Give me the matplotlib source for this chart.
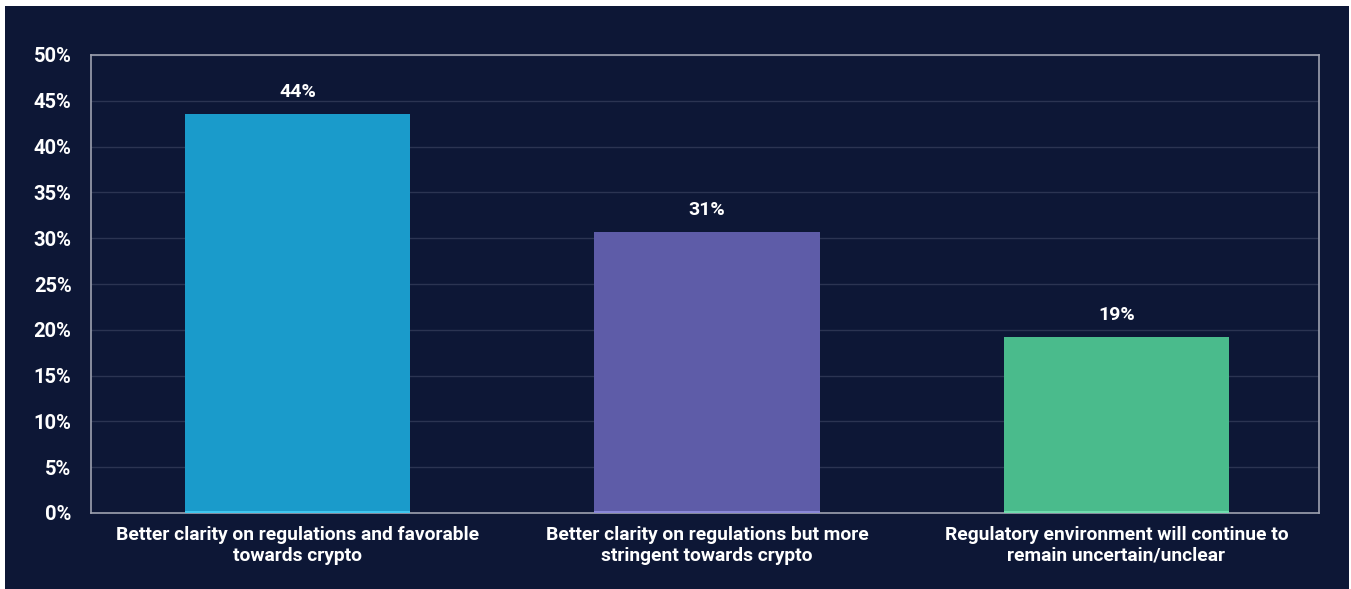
import matplotlib.pyplot as plt
from matplotlib.patches import Rectangle

categories = [
    'Better clarity on regulations and favorable\ntowards crypto',
    'Better clarity on regulations but more\nstringent towards crypto',
    'Regulatory environment will continue to\nremain uncertain/unclear',
]
values = [43.6, 30.7, 19.2]
colors = ['#1a9bcb', '#5e5ca8', '#4abb8c']
edge_colors = ['#3fc6ef', '#8a87d8', '#6fdcae']
yticks = [0, 5, 10, 15, 20, 25, 30, 35, 40, 45, 50]

BG = '#0d1736'
plt.rcParams['font.family'] = ['Roboto', 'DejaVu Sans']

fig = plt.figure(figsize=(13.51, 5.89), dpi=100, facecolor='white')
# dark panel with a thin white margin on top and left
fig.patches.append(Rectangle((5 / 1351, 0), 1344 / 1351, 583 / 589,
                             transform=fig.transFigure, facecolor=BG,
                             edgecolor='none', zorder=-5))

ax = fig.add_axes([91 / 1351, 1 - 513 / 589, 1228 / 1351, 458 / 589])
ax.set_facecolor(BG)
ax.set_zorder(2)

x = range(len(categories))
ax.bar(x, values, width=0.55, color=colors, zorder=3)
for i, v in enumerate(values):
    ax.plot([i - 0.275, i + 0.275], [0.15, 0.15], color=edge_colors[i],
            lw=1.5, zorder=4, solid_capstyle='butt')
    ax.text(i, v + 1.4, f'{round(v)}%', ha='center', va='bottom',
            color='white', fontsize=14, fontweight='bold')

ax.set_xlim(-0.505, 2.495)
ax.set_ylim(0, 50)
ax.set_yticks(yticks)
ax.set_yticklabels([f'{t}%' for t in yticks])
ax.set_xticks(list(x))
ax.set_xticklabels(categories, linespacing=1.25)
ax.tick_params(axis='y', length=0, pad=14, colors='white', labelsize=14.5)
ax.tick_params(axis='x', length=0, pad=9, colors='white', labelsize=13.9)
for lab in ax.get_xticklabels() + ax.get_yticklabels():
    lab.set_fontweight('bold')

ax.grid(axis='y', color='#2b3452', lw=1, zorder=0)
for s in ax.spines.values():
    s.set_color('#9ea2b0')
    s.set_linewidth(1.2)

fig.savefig('out.png', dpi=100, facecolor='white')
